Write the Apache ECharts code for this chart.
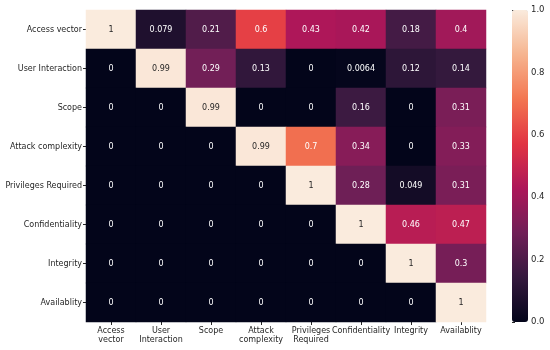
<!DOCTYPE html>
<html>
<head>
<meta charset="utf-8">
<script src="https://cdn.jsdelivr.net/npm/echarts@6/dist/echarts.min.js"></script>
<style>html,body{margin:0;padding:0;background:#fff}#c{width:550px;height:350px}</style>
</head>
<body>
<div id="c"></div>
<script>
const xLabels = ["Access\nvector", "User\nInteraction", "Scope", "Attack\ncomplexity", "Privileges\nRequired", "Confidentiality", "Integrity", "Availablity"];
const yLabels = ["Access vector", "User Interaction", "Scope", "Attack complexity", "Privileges Required", "Confidentiality", "Integrity", "Availablity"];
const rowAccessVector = [1, 0.079, 0.21, 0.6, 0.43, 0.42, 0.18, 0.4];
const rowUserInteraction = [0, 0.99, 0.29, 0.13, 0, 0.0064, 0.12, 0.14];
const rowScope = [0, 0, 0.99, 0, 0, 0.16, 0, 0.31];
const rowAttackComplexity = [0, 0, 0, 0.99, 0.7, 0.34, 0, 0.33];
const rowPrivilegesRequired = [0, 0, 0, 0, 1, 0.28, 0.049, 0.31];
const rowConfidentiality = [0, 0, 0, 0, 0, 1, 0.46, 0.47];
const rowIntegrity = [0, 0, 0, 0, 0, 0, 1, 0.3];
const rowAvailability = [0, 0, 0, 0, 0, 0, 0, 1];
const colorbarTicks = [0, 0.2, 0.4, 0.6, 0.8, 1.0];

const rows = [rowAccessVector, rowUserInteraction, rowScope, rowAttackComplexity,
  rowPrivilegesRequired, rowConfidentiality, rowIntegrity, rowAvailability];
const rocket = ['#03051A', '#35193E', '#701F57', '#AD1759', '#E13342', '#F37651', '#F6B48F', '#FAEBDD'];

const data = [];
rows.forEach((row, yi) => {
  row.forEach((v, xi) => {
    data.push({
      value: [xi, yi, v],
      label: { color: v > 0.85 ? '#262626' : '#ffffff' }
    });
  });
});

const font = 'DejaVu Sans';
const chart = echarts.init(document.getElementById('c'), null, { renderer: 'canvas' });
chart.setOption({
  animation: false,
  backgroundColor: '#fff',
  textStyle: { fontFamily: font },
  grid: [
    { left: 86, width: 400, top: 10, height: 312 },
    { left: 512, width: 16, top: 10, height: 312 }
  ],
  xAxis: [
    {
      type: 'category', data: xLabels, gridIndex: 0, position: 'bottom',
      axisLine: { show: false },
      axisTick: { show: true, alignWithLabel: true, length: 3, lineStyle: { color: '#262626' } },
      axisLabel: { fontSize: 8, color: '#262626', fontFamily: font, margin: 4, lineHeight: 9, interval: 0 },
      splitLine: { show: false }
    },
    { type: 'value', gridIndex: 1, show: false, min: 0, max: 1 }
  ],
  yAxis: [
    {
      type: 'category', data: yLabels, gridIndex: 0, inverse: true,
      axisLine: { show: false },
      axisTick: { show: true, alignWithLabel: true, length: 3, lineStyle: { color: '#262626' } },
      axisLabel: { fontSize: 8, color: '#262626', fontFamily: font, margin: 4, interval: 0 },
      splitLine: { show: false }
    },
    {
      type: 'value', gridIndex: 1, position: 'right', min: 0, max: 1, interval: 0.2,
      axisLine: { show: false },
      axisTick: { show: true, length: 3, lineStyle: { color: '#262626' } },
      axisLabel: {
        fontSize: 8.5, color: '#262626', fontFamily: font, margin: 3,
        formatter: v => colorbarTicks.includes(Math.round(v * 10) / 10) ? v.toFixed(1) : ''
      },
      splitLine: { show: false }
    }
  ],
  visualMap: {
    type: 'continuous', min: 0, max: 1, calculable: false, orient: 'vertical',
    left: 512, top: 10, itemWidth: 16, itemHeight: 312, padding: 0,
    seriesIndex: 0, text: null, showLabel: false,
    inRange: { color: rocket }
  },
  series: [
    {
      type: 'heatmap', xAxisIndex: 0, yAxisIndex: 0, data: data,
      itemStyle: { borderWidth: 0 },
      label: {
        show: true, fontSize: 8, fontFamily: font,
        formatter: p => String(p.value[2])
      },
      emphasis: { disabled: true }
    },
    { type: 'scatter', xAxisIndex: 1, yAxisIndex: 1, data: [] }
  ]
});
</script>
</body>
</html>
